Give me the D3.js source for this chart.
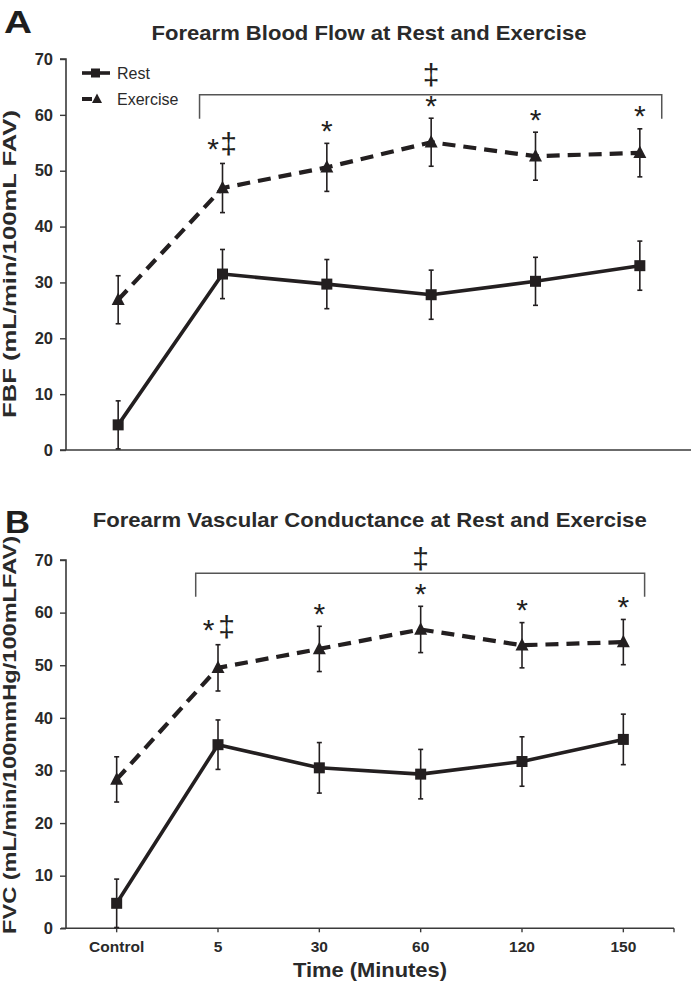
<!DOCTYPE html>
<html>
<head>
<meta charset="utf-8">
<script src="https://cdn.jsdelivr.net/npm/d3@7/dist/d3.min.js"></script>
<style>
  html, body { margin: 0; padding: 0; background: #fff; }
  svg { display: block; font-family: "Liberation Sans", Arial, Helvetica, sans-serif; }
</style>
</head>
<body>
<svg id="chart" width="691" height="985"></svg>
<script>
// ---- data ----
const categories = ["Control", "5", "30", "60", "120", "150"];
const yTicks = [0, 10, 20, 30, 40, 50, 60, 70];

const fbfRest    = [4.5, 31.5, 29.7, 27.8, 30.2, 33.0];
const fbfRestErr = [4.3, 4.4, 4.4, 4.4, 4.3, 4.4];
const fbfEx      = [26.9, 46.9, 50.6, 55.1, 52.6, 53.2];
const fbfExErr   = [4.3, 4.4, 4.3, 4.3, 4.3, 4.3];

const fvcRest    = [4.75, 34.9, 30.5, 29.3, 31.7, 35.9];
const fvcRestErr = [4.6, 4.7, 4.8, 4.7, 4.7, 4.8];
const fvcEx      = [28.3, 49.5, 53.1, 56.8, 53.8, 54.4];
const fvcExErr   = [4.3, 4.4, 4.3, 4.4, 4.3, 4.3];

const starCats   = ["5", "30", "60", "120", "150"];   // * vs control
const daggerCats = ["5"];                            // ‡ at single point
const bracketDaggerCat = "60";                       // ‡ over bracket

const seriesNames = ["Rest", "Exercise"];

// ---- drawing ----
const svg = d3.select("#chart");
const ink = "#231f20";
const FONT = "'Liberation Sans', Arial, Helvetica, sans-serif";

function trianglePath(w, h) {
  return `M0,${-h * 0.58}L${w / 2},${h * 0.42}L${-w / 2},${h * 0.42}Z`;
}

function drawPanel(cfg) {
  const g = svg.append("g");
  const x = d3.scaleBand().domain(categories).range(cfg.xRange).padding(0);
  const y = d3.scaleLinear().domain([0, 70]).range(cfg.yRange);
  const cx = c => x(c) + x.bandwidth() / 2;

  // y axis
  const yAxis = d3.axisLeft(y).tickValues(yTicks).tickSize(6).tickPadding(7);
  const ya = g.append("g").attr("transform", `translate(${cfg.xRange[0]},0)`).call(yAxis);
  ya.select(".domain").attr("stroke", "#3a3a3a").attr("stroke-width", 1.6)
    .attr("d", `M-6,${cfg.yRange[1]}H0V${cfg.yRange[0]}`);
  ya.selectAll(".tick line").attr("stroke", "#3a3a3a").attr("stroke-width", 1.4);
  ya.selectAll(".tick text").attr("fill", "#2a2a2a").attr("font-size", 16.5)
    .attr("font-weight", "bold").attr("font-family", FONT);

  // x axis
  if (cfg.xTicks) {
    const xAxis = d3.axisBottom(x).tickSize(4).tickPadding(9);
    const xa = g.append("g").attr("transform", `translate(0,${cfg.yRange[0]})`).call(xAxis);
    xa.select(".domain").remove();
    xa.selectAll(".tick line").attr("stroke", "#3a3a3a").attr("stroke-width", 1.4);
    xa.selectAll(".tick text").attr("fill", "#2a2a2a").attr("font-size", 15.5)
      .attr("font-weight", "bold").attr("font-family", FONT);
    g.append("line").attr("x1", cfg.xRange[0] - 5).attr("x2", cfg.xRange[1])
      .attr("y1", cfg.yRange[0]).attr("y2", cfg.yRange[0])
      .attr("stroke", "#3a3a3a").attr("stroke-width", 1.6);
    g.append("line").attr("x1", cfg.xRange[1]).attr("x2", cfg.xRange[1])
      .attr("y1", cfg.yRange[0]).attr("y2", cfg.yRange[0] + 4)
      .attr("stroke", "#3a3a3a").attr("stroke-width", 1.4);
  } else {
    g.append("line").attr("x1", cfg.xRange[0] - 6).attr("x2", cfg.xRange[1])
      .attr("y1", cfg.yRange[0]).attr("y2", cfg.yRange[0])
      .attr("stroke", "#3a3a3a").attr("stroke-width", 1.6);
  }

  const series = [
    { vals: cfg.ex, err: cfg.exErr, dash: "13,8", width: 4.2, marker: "tri" },
    { vals: cfg.rest, err: cfg.restErr, dash: null, width: 3.6, marker: "sq" }
  ];

  series.forEach(s => {
    const pts = categories.map((c, i) => ({ c, v: s.vals[i], e: s.err[i] }));
    // error bars
    const eb = g.append("g");
    pts.forEach(p => {
      const lo = Math.max(0, p.v - p.e), hi = p.v + p.e;
      eb.append("line").attr("x1", cx(p.c)).attr("x2", cx(p.c))
        .attr("y1", y(lo)).attr("y2", y(hi)).attr("stroke", ink).attr("stroke-width", 1.6);
      [hi, lo].forEach(v => {
        if (v <= 0) return;
        eb.append("line").attr("x1", cx(p.c) - 2.5).attr("x2", cx(p.c) + 2.5)
          .attr("y1", y(v)).attr("y2", y(v)).attr("stroke", ink).attr("stroke-width", 1.6);
      });
    });
    // line
    const line = d3.line().x(p => cx(p.c)).y(p => y(p.v));
    g.append("path").datum(pts).attr("d", line).attr("fill", "none")
      .attr("stroke", ink).attr("stroke-width", s.width)
      .attr("stroke-dasharray", s.dash).attr("stroke-linejoin", "round");
    // markers
    pts.forEach(p => {
      if (s.marker === "sq") {
        g.append("rect").attr("x", cx(p.c) - 5.5).attr("y", y(p.v) - 5.5)
          .attr("width", 11).attr("height", 11).attr("fill", ink);
      } else {
        g.append("path").attr("d", trianglePath(13, 12.5))
          .attr("transform", `translate(${cx(p.c)},${y(p.v)})`).attr("fill", ink);
      }
    });
  });

  // annotations: asterisks and daggers
  const exTop = c => y(cfg.ex[categories.indexOf(c)] + cfg.exErr[categories.indexOf(c)]);
  starCats.forEach(c => {
    const withDagger = daggerCats.includes(c);
    g.append("text").text("*")
      .attr("x", cx(c) + (withDagger ? -9.5 : 0))
      .attr("y", exTop(c) + (withDagger ? cfg.star5Off : -2.4))
      .attr("text-anchor", "middle").attr("font-size", 30).attr("fill", ink)
      .attr("font-family", FONT);
  });
  daggerCats.forEach(c => {
    g.append("text").text("‡")
      .attr("x", cx(c) + cfg.dagOffset).attr("y", exTop(c) + cfg.dag5Off)
      .attr("text-anchor", "middle").attr("font-size", 30).attr("fill", ink)
      .attr("font-family", FONT);
  });

  // bracket
  const bx1 = x("5") + x.bandwidth() * 0.28;
  const bx2 = x("150") + x.bandwidth() * 0.71;
  const by = y(cfg.bracketY), byL = y(cfg.bracketY - cfg.bracketDrop);
  g.append("path").attr("d", `M${bx1},${byL}V${by}H${bx2}V${byL}`)
    .attr("fill", "none").attr("stroke", "#555").attr("stroke-width", 1.5);
  g.append("text").text("‡")
    .attr("x", cx(bracketDaggerCat)).attr("y", by - cfg.bracketDagGap)
    .attr("text-anchor", "middle").attr("font-size", 30).attr("fill", ink)
    .attr("font-family", FONT);

  // title + panel letter
  g.append("text").text(cfg.title).attr("x", cfg.titleX).attr("y", cfg.titleY)
    .attr("text-anchor", "middle").attr("font-size", 21).attr("font-weight", "bold")
    .attr("fill", "#2a2a2a").attr("font-family", FONT)
    .attr("textLength", cfg.titleLen).attr("lengthAdjust", "spacingAndGlyphs");
  g.append("text").text(cfg.letter).attr("x", cfg.letterX).attr("y", cfg.letterY)
    .attr("font-size", 32).attr("font-weight", "bold").attr("fill", "#1e1e1e")
    .attr("font-family", FONT)
    .attr("textLength", cfg.letterLen).attr("lengthAdjust", "spacingAndGlyphs");

  // y label
  g.append("text").text(cfg.yLabel)
    .attr("transform", `translate(16,${cfg.yLabelY}) rotate(-90)`)
    .attr("text-anchor", "middle").attr("font-size", 19).attr("font-weight", "bold")
    .attr("fill", "#2a2a2a").attr("font-family", FONT)
    .attr("textLength", cfg.yLabelLen).attr("lengthAdjust", "spacingAndGlyphs");

  return { x, y, cx };
}

const A = drawPanel({
  xRange: [66, 692], yRange: [450, 59], xTicks: false,
  rest: fbfRest, restErr: fbfRestErr, ex: fbfEx, exErr: fbfExErr,
  dagOffset: 6, star5Off: -4, dag5Off: -9,
  bracketY: 63.6, bracketDrop: 4.3, bracketDagGap: 9.5,
  title: "Forearm Blood Flow at Rest and Exercise", titleX: 369, titleY: 40, titleLen: 435,
  letter: "A", letterX: 4, letterY: 33, letterLen: 28,
  yLabel: "FBF (mL/min/100mL FAV)", yLabelY: 264, yLabelLen: 308
});

const B = drawPanel({
  xRange: [66, 674], yRange: [928.3, 560], xTicks: true,
  rest: fvcRest, restErr: fvcRestErr, ex: fvcEx, exErr: fvcExErr,
  dagOffset: 8.5, star5Off: -4.7, dag5Off: -8,
  bracketY: 67.5, bracketDrop: 4.5, bracketDagGap: 4,
  title: "Forearm Vascular Conductance at Rest and Exercise", titleX: 369.7, titleY: 527, titleLen: 554,
  letter: "B", letterX: 5, letterY: 533, letterLen: 25,
  yLabel: "FVC (mL/min/100mmHg/100mLFAV)", yLabelY: 735, yLabelLen: 398
});

// x axis title
svg.append("text").text("Time (Minutes)").attr("x", 370).attr("y", 976.5)
  .attr("text-anchor", "middle").attr("font-size", 21).attr("font-weight", "bold")
  .attr("fill", "#2a2a2a").attr("font-family", FONT)
  .attr("textLength", 154).attr("lengthAdjust", "spacingAndGlyphs");

// legend (panel A)
const leg = svg.append("g");
seriesNames.forEach((name, i) => {
  const ly = 73 + i * 26;
  if (i === 0) {
    leg.append("line").attr("x1", 82).attr("x2", 110).attr("y1", ly).attr("y2", ly)
      .attr("stroke", ink).attr("stroke-width", 3.6);
    leg.append("rect").attr("x", 91).attr("y", ly - 4.5).attr("width", 9).attr("height", 9).attr("fill", ink);
  } else {
    leg.append("line").attr("x1", 82).attr("x2", 92).attr("y1", ly).attr("y2", ly)
      .attr("stroke", ink).attr("stroke-width", 4);
    leg.append("path").attr("d", trianglePath(10, 9.5))
      .attr("transform", `translate(97,${ly})`).attr("fill", ink);
  }
  leg.append("text").text(name).attr("x", 117).attr("y", ly + 5.5)
    .attr("font-size", 16).attr("fill", "#2a2a2a").attr("font-family", FONT);
});
</script>
</body>
</html>
